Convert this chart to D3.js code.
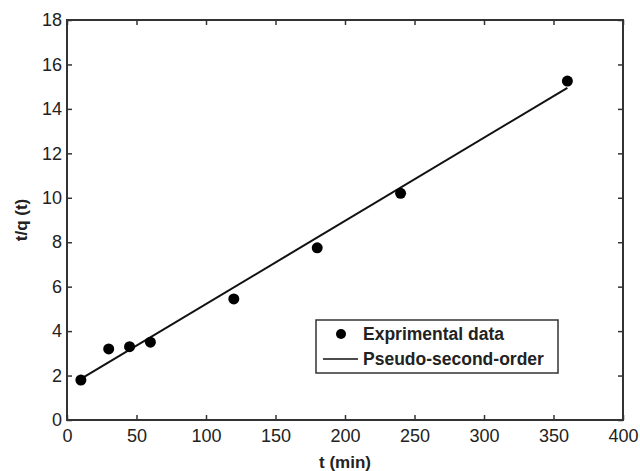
<!DOCTYPE html>
<html>
<head>
<meta charset="utf-8">
<script src="https://cdn.jsdelivr.net/npm/d3@7"></script>
<style>
  body { margin: 0; background: #fff; }
  svg { font-family: "Liberation Sans", Arial, sans-serif; }
  .tick text { font-size: 18px; fill: #222; }
  .axis-title { font-size: 17px; font-weight: bold; fill: #222; }
  .legend-label { font-size: 17.5px; font-weight: bold; fill: #222; }
</style>
</head>
<body>
<div id="chart"></div>
<script>
// experimental points
const timeMin = [10, 30, 45, 60, 120, 180, 240, 360];
const tOverQ = [1.8, 3.2, 3.3, 3.5, 5.45, 7.75, 10.2, 15.25];

// pseudo-second-order fit line (end points)
const fitTime = [10, 360];
const fitValue = [1.85, 14.95];

const xTicks = [0, 50, 100, 150, 200, 250, 300, 350, 400];
const yTicks = [0, 2, 4, 6, 8, 10, 12, 14, 16, 18];

const width = 640, height = 471;
const margin = {top: 20, right: 17, bottom: 51, left: 67};
const innerW = width - margin.left - margin.right;
const innerH = height - margin.top - margin.bottom;

const svg = d3.select('#chart').append('svg')
    .attr('width', width)
    .attr('height', height);

const chart = svg.append('g')
    .attr('transform', `translate(${margin.left},${margin.top})`);

const x = d3.scaleLinear().domain([0, 400]).range([0, innerW]);
const y = d3.scaleLinear().domain([0, 18]).range([innerH, 0]);

// axes with inward ticks, MATLAB style
chart.append('g')
    .attr('transform', `translate(0,${innerH})`)
    .call(d3.axisBottom(x).tickValues(xTicks).tickSize(-5).tickPadding(9));
chart.append('g')
    .call(d3.axisLeft(y).tickValues(yTicks).tickSize(-5).tickPadding(5));
// top & right mirror ticks
chart.append('g')
    .call(d3.axisTop(x).tickValues(xTicks).tickSize(-5).tickFormat(''));
chart.append('g')
    .attr('transform', `translate(${innerW},0)`)
    .call(d3.axisRight(y).tickValues(yTicks).tickSize(-5).tickFormat(''));

chart.selectAll('.domain').remove();
chart.selectAll('.tick line').attr('stroke', '#333').attr('stroke-width', 1.5);

// frame
chart.append('rect')
    .attr('width', innerW)
    .attr('height', innerH)
    .attr('fill', 'none')
    .attr('stroke', '#333')
    .attr('stroke-width', 2);

// fit line
const fitData = fitTime.map((t, i) => ({t: t, v: fitValue[i]}));
chart.append('path')
    .datum(fitData)
    .attr('fill', 'none')
    .attr('stroke', '#111')
    .attr('stroke-width', 2)
    .attr('d', d3.line().x(d => x(d.t)).y(d => y(d.v)));

// points
const pts = timeMin.map((t, i) => ({t: t, v: tOverQ[i]}));
chart.selectAll('.pt')
    .data(pts)
  .join('circle')
    .attr('class', 'pt')
    .attr('cx', d => x(d.t))
    .attr('cy', d => y(d.v))
    .attr('r', 5.5)
    .attr('fill', '#000');

// axis titles
svg.append('text')
    .attr('class', 'axis-title')
    .attr('text-anchor', 'middle')
    .attr('x', margin.left + x(200))
    .attr('y', 468)
    .text('t (min)');

svg.append('text')
    .attr('class', 'axis-title')
    .attr('text-anchor', 'middle')
    .attr('transform', `translate(27,${margin.top + y(9.0)}) rotate(-90)`)
    .text('t/q (t)');

// legend
const legend = svg.append('g')
    .attr('transform', 'translate(316,320)');
legend.append('rect')
    .attr('width', 242)
    .attr('height', 53)
    .attr('fill', '#fff')
    .attr('stroke', '#333')
    .attr('stroke-width', 1.5);
legend.append('circle')
    .attr('cx', 25)
    .attr('cy', 14)
    .attr('r', 5)
    .attr('fill', '#000');
legend.append('line')
    .attr('x1', 7).attr('x2', 42)
    .attr('y1', 39).attr('y2', 39)
    .attr('stroke', '#111')
    .attr('stroke-width', 1.5);
legend.selectAll('.legend-label')
    .data(['Exprimental data', 'Pseudo-second-order'])
  .join('text')
    .attr('class', 'legend-label')
    .attr('x', 47)
    .attr('y', (d, i) => 14 + i * 25)
    .attr('dy', '.35em')
    .text(d => d);
</script>
</body>
</html>
